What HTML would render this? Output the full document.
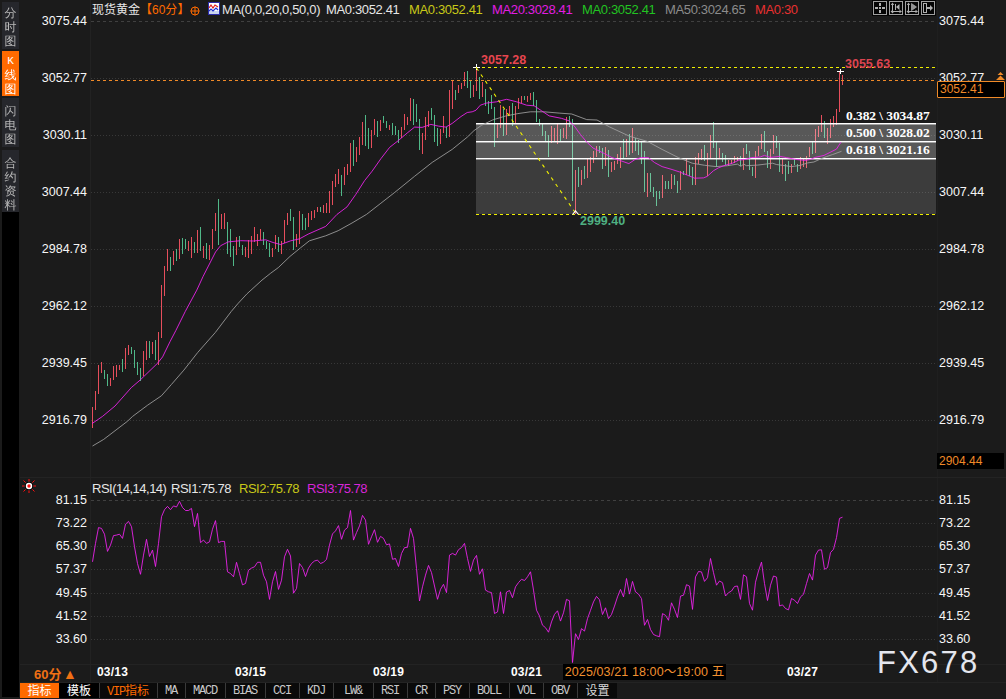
<!DOCTYPE html>
<html lang="zh-CN"><head><meta charset="utf-8"><title>现货黄金 60分</title>
<style>
html,body{margin:0;padding:0;background:#1b1b1b;}
body{width:1006px;height:699px;overflow:hidden;position:relative;font-family:"Liberation Sans","Noto Sans CJK SC",sans-serif;}
#root{position:absolute;left:0;top:0;width:1006px;height:699px;background:#1b1b1b;overflow:hidden;}
svg{position:absolute;left:0;top:0;}
.t{position:absolute;white-space:nowrap;line-height:14px;font-size:12px;color:#f4f4f4;}
.ax{color:#f6f6f6;font-size:12.5px;}
</style></head><body><div id="root">
<style>
.sb{position:absolute;left:2px;width:17px;background:#000;}
.tab{position:absolute;left:2px;width:17px;background:#26272c;color:#b9b9b9;font-family:"Liberation Sans","WenQuanYi Zen Hei","Noto Sans CJK SC",sans-serif;font-size:12px;line-height:14px;text-align:center;}
.tab span{display:block;height:14px;}
.tab.on{background:#ff6a00;color:#fff;}
.vl{position:absolute;width:1px;background:#222222;}
.hl{position:absolute;height:1px;background:#232323;}
</style>
<div class="sb" style="top:0;height:697px;background:#1b1b1c"></div>
<div class="sb" style="top:212px;height:485px"></div>
<div class="tab" style="top:2px;height:47px;padding-top:4px;height:43px"><span>分</span><span>时</span><span>图</span></div>
<div class="tab on" style="top:51px;padding-top:3px;height:42px"><span style="font-family:'Liberation Mono',monospace;font-size:11px">K</span><span>线</span><span>图</span></div>
<div class="tab" style="top:98px;padding-top:6px;height:43px"><span>闪</span><span>电</span><span>图</span></div>
<div class="tab" style="top:150px;padding-top:6px;height:56px"><span>合</span><span>约</span><span>资</span><span>料</span></div>
<div class="vl" style="left:90px;top:0;height:683px"></div>
<div class="vl" style="left:937px;top:0;height:683px;background:#1f1f1f"></div>
<div class="hl" style="left:20px;top:477px;width:986px"></div>
<div class="hl" style="left:20px;top:664px;width:986px"></div>
<div class="hl" style="left:20px;top:682px;width:986px"></div>

<svg width="1006" height="699" viewBox="0 0 1006 699" shape-rendering="crispEdges">
<line x1="91" x2="936" y1="21.5" y2="21.5" stroke="#404040" stroke-width="1" stroke-dasharray="3 3"/>
<line x1="91" x2="936" y1="78.5" y2="78.5" stroke="#383838" stroke-width="1" stroke-dasharray="1 2"/>
<line x1="91" x2="936" y1="135.5" y2="135.5" stroke="#383838" stroke-width="1" stroke-dasharray="1 2"/>
<line x1="91" x2="936" y1="192.5" y2="192.5" stroke="#383838" stroke-width="1" stroke-dasharray="1 2"/>
<line x1="91" x2="936" y1="249.5" y2="249.5" stroke="#383838" stroke-width="1" stroke-dasharray="1 2"/>
<line x1="91" x2="936" y1="306.5" y2="306.5" stroke="#383838" stroke-width="1" stroke-dasharray="1 2"/>
<line x1="91" x2="936" y1="363.5" y2="363.5" stroke="#383838" stroke-width="1" stroke-dasharray="1 2"/>
<line x1="91" x2="936" y1="420.5" y2="420.5" stroke="#383838" stroke-width="1" stroke-dasharray="1 2"/>
<line x1="91" x2="936" y1="500.5" y2="500.5" stroke="#404040" stroke-width="1" stroke-dasharray="3 3"/>
<line x1="91" x2="936" y1="523.5" y2="523.5" stroke="#383838" stroke-width="1" stroke-dasharray="1 2"/>
<line x1="91" x2="936" y1="546.5" y2="546.5" stroke="#383838" stroke-width="1" stroke-dasharray="1 2"/>
<line x1="91" x2="936" y1="569.5" y2="569.5" stroke="#383838" stroke-width="1" stroke-dasharray="1 2"/>
<line x1="91" x2="936" y1="593.5" y2="593.5" stroke="#383838" stroke-width="1" stroke-dasharray="1 2"/>
<line x1="91" x2="936" y1="616.5" y2="616.5" stroke="#383838" stroke-width="1" stroke-dasharray="1 2"/>
<line x1="91" x2="936" y1="639.5" y2="639.5" stroke="#383838" stroke-width="1" stroke-dasharray="1 2"/>
<rect x="92" y="407" width="1" height="21" fill="#e64e5c"/>
<rect x="95" y="391" width="1" height="19" fill="#e64e5c"/>
<rect x="98" y="365" width="1" height="29" fill="#e64e5c"/>
<rect x="101" y="362" width="1" height="11" fill="#e64e5c"/>
<rect x="104" y="370" width="1" height="9" fill="#50b888"/>
<rect x="107" y="374" width="1" height="12" fill="#50b888"/>
<rect x="110" y="378" width="1" height="8" fill="#e64e5c"/>
<rect x="113" y="366" width="1" height="14" fill="#e64e5c"/>
<rect x="116" y="365" width="1" height="12" fill="#e64e5c"/>
<rect x="119" y="365" width="1" height="5" fill="#e64e5c"/>
<rect x="122" y="359" width="1" height="13" fill="#50b888"/>
<rect x="125" y="348" width="1" height="21" fill="#e64e5c"/>
<rect x="128" y="345" width="1" height="10" fill="#e64e5c"/>
<rect x="131" y="347" width="1" height="7" fill="#50b888"/>
<rect x="134" y="350" width="1" height="18" fill="#50b888"/>
<rect x="137" y="362" width="1" height="13" fill="#50b888"/>
<rect x="140" y="368" width="1" height="13" fill="#50b888"/>
<rect x="143" y="351" width="1" height="25" fill="#e64e5c"/>
<rect x="146" y="341" width="1" height="19" fill="#e64e5c"/>
<rect x="149" y="341" width="1" height="17" fill="#50b888"/>
<rect x="152" y="342" width="1" height="12" fill="#e64e5c"/>
<rect x="155" y="340" width="1" height="20" fill="#50b888"/>
<rect x="158" y="332" width="1" height="33" fill="#e64e5c"/>
<rect x="161" y="285" width="1" height="53" fill="#e64e5c"/>
<rect x="164" y="266" width="1" height="30" fill="#e64e5c"/>
<rect x="167" y="249" width="1" height="22" fill="#e64e5c"/>
<rect x="170" y="257" width="1" height="14" fill="#50b888"/>
<rect x="173" y="251" width="1" height="14" fill="#e64e5c"/>
<rect x="176" y="249" width="1" height="12" fill="#50b888"/>
<rect x="179" y="239" width="1" height="20" fill="#e64e5c"/>
<rect x="182" y="238" width="1" height="16" fill="#50b888"/>
<rect x="185" y="239" width="1" height="10" fill="#50b888"/>
<rect x="188" y="241" width="1" height="10" fill="#e64e5c"/>
<rect x="191" y="237" width="1" height="21" fill="#e64e5c"/>
<rect x="194" y="242" width="1" height="11" fill="#50b888"/>
<rect x="197" y="230" width="1" height="23" fill="#e64e5c"/>
<rect x="200" y="227" width="1" height="24" fill="#50b888"/>
<rect x="203" y="246" width="1" height="12" fill="#e64e5c"/>
<rect x="206" y="243" width="1" height="16" fill="#50b888"/>
<rect x="209" y="245" width="1" height="15" fill="#e64e5c"/>
<rect x="212" y="229" width="1" height="20" fill="#e64e5c"/>
<rect x="215" y="213" width="1" height="18" fill="#e64e5c"/>
<rect x="218" y="199" width="1" height="46" fill="#50b888"/>
<rect x="221" y="214" width="1" height="15" fill="#e64e5c"/>
<rect x="224" y="213" width="1" height="16" fill="#e64e5c"/>
<rect x="227" y="222" width="1" height="32" fill="#50b888"/>
<rect x="230" y="229" width="1" height="28" fill="#50b888"/>
<rect x="233" y="246" width="1" height="20" fill="#50b888"/>
<rect x="236" y="237" width="1" height="18" fill="#e64e5c"/>
<rect x="239" y="236" width="1" height="11" fill="#50b888"/>
<rect x="242" y="245" width="1" height="10" fill="#50b888"/>
<rect x="245" y="247" width="1" height="10" fill="#e64e5c"/>
<rect x="248" y="240" width="1" height="18" fill="#e64e5c"/>
<rect x="251" y="236" width="1" height="18" fill="#e64e5c"/>
<rect x="254" y="227" width="1" height="15" fill="#e64e5c"/>
<rect x="257" y="234" width="1" height="12" fill="#e64e5c"/>
<rect x="260" y="229" width="1" height="11" fill="#e64e5c"/>
<rect x="263" y="232" width="1" height="13" fill="#50b888"/>
<rect x="266" y="241" width="1" height="8" fill="#50b888"/>
<rect x="269" y="243" width="1" height="14" fill="#50b888"/>
<rect x="272" y="248" width="1" height="9" fill="#e64e5c"/>
<rect x="275" y="235" width="1" height="14" fill="#e64e5c"/>
<rect x="278" y="237" width="1" height="15" fill="#50b888"/>
<rect x="281" y="241" width="1" height="13" fill="#e64e5c"/>
<rect x="284" y="220" width="1" height="23" fill="#e64e5c"/>
<rect x="287" y="213" width="1" height="12" fill="#e64e5c"/>
<rect x="290" y="209" width="1" height="12" fill="#50b888"/>
<rect x="293" y="217" width="1" height="33" fill="#50b888"/>
<rect x="296" y="234" width="1" height="13" fill="#e64e5c"/>
<rect x="299" y="211" width="1" height="33" fill="#e64e5c"/>
<rect x="302" y="214" width="1" height="16" fill="#50b888"/>
<rect x="305" y="218" width="1" height="12" fill="#50b888"/>
<rect x="308" y="213" width="1" height="14" fill="#e64e5c"/>
<rect x="311" y="211" width="1" height="9" fill="#e64e5c"/>
<rect x="314" y="210" width="1" height="8" fill="#e64e5c"/>
<rect x="317" y="207" width="1" height="5" fill="#e64e5c"/>
<rect x="320" y="207" width="1" height="5" fill="#50b888"/>
<rect x="323" y="205" width="1" height="8" fill="#e64e5c"/>
<rect x="326" y="203" width="1" height="10" fill="#e64e5c"/>
<rect x="329" y="191" width="1" height="22" fill="#e64e5c"/>
<rect x="332" y="181" width="1" height="24" fill="#e64e5c"/>
<rect x="335" y="174" width="1" height="13" fill="#e64e5c"/>
<rect x="338" y="169" width="1" height="15" fill="#e64e5c"/>
<rect x="341" y="175" width="1" height="21" fill="#50b888"/>
<rect x="344" y="167" width="1" height="18" fill="#e64e5c"/>
<rect x="347" y="164" width="1" height="11" fill="#e64e5c"/>
<rect x="350" y="143" width="1" height="29" fill="#e64e5c"/>
<rect x="353" y="140" width="1" height="26" fill="#50b888"/>
<rect x="356" y="147" width="1" height="15" fill="#e64e5c"/>
<rect x="359" y="137" width="1" height="18" fill="#e64e5c"/>
<rect x="362" y="122" width="1" height="23" fill="#e64e5c"/>
<rect x="365" y="115" width="1" height="31" fill="#50b888"/>
<rect x="368" y="128" width="1" height="21" fill="#50b888"/>
<rect x="371" y="130" width="1" height="18" fill="#e64e5c"/>
<rect x="374" y="119" width="1" height="16" fill="#e64e5c"/>
<rect x="377" y="121" width="1" height="16" fill="#50b888"/>
<rect x="380" y="120" width="1" height="11" fill="#e64e5c"/>
<rect x="383" y="116" width="1" height="7" fill="#50b888"/>
<rect x="386" y="121" width="1" height="7" fill="#50b888"/>
<rect x="389" y="125" width="1" height="5" fill="#e64e5c"/>
<rect x="392" y="123" width="1" height="12" fill="#50b888"/>
<rect x="395" y="126" width="1" height="9" fill="#50b888"/>
<rect x="398" y="130" width="1" height="13" fill="#50b888"/>
<rect x="401" y="127" width="1" height="11" fill="#e64e5c"/>
<rect x="404" y="114" width="1" height="16" fill="#e64e5c"/>
<rect x="407" y="117" width="1" height="8" fill="#e64e5c"/>
<rect x="410" y="98" width="1" height="23" fill="#e64e5c"/>
<rect x="413" y="99" width="1" height="26" fill="#50b888"/>
<rect x="416" y="104" width="1" height="18" fill="#50b888"/>
<rect x="419" y="119" width="1" height="31" fill="#50b888"/>
<rect x="422" y="133" width="1" height="21" fill="#e64e5c"/>
<rect x="425" y="117" width="1" height="23" fill="#e64e5c"/>
<rect x="428" y="111" width="1" height="16" fill="#e64e5c"/>
<rect x="431" y="108" width="1" height="12" fill="#50b888"/>
<rect x="434" y="115" width="1" height="27" fill="#50b888"/>
<rect x="437" y="128" width="1" height="18" fill="#50b888"/>
<rect x="440" y="129" width="1" height="15" fill="#e64e5c"/>
<rect x="443" y="116" width="1" height="17" fill="#e64e5c"/>
<rect x="446" y="127" width="1" height="11" fill="#50b888"/>
<rect x="449" y="90" width="1" height="47" fill="#e64e5c"/>
<rect x="452" y="80" width="1" height="29" fill="#e64e5c"/>
<rect x="455" y="90" width="1" height="10" fill="#50b888"/>
<rect x="458" y="85" width="1" height="8" fill="#e64e5c"/>
<rect x="461" y="83" width="1" height="6" fill="#e64e5c"/>
<rect x="464" y="72" width="1" height="14" fill="#e64e5c"/>
<rect x="467" y="71" width="1" height="17" fill="#50b888"/>
<rect x="470" y="81" width="1" height="17" fill="#50b888"/>
<rect x="473" y="85" width="1" height="12" fill="#e64e5c"/>
<rect x="476" y="67" width="1" height="24" fill="#e64e5c"/>
<rect x="479" y="77" width="1" height="22" fill="#50b888"/>
<rect x="482" y="82" width="1" height="15" fill="#e64e5c"/>
<rect x="485" y="89" width="1" height="17" fill="#50b888"/>
<rect x="488" y="101" width="1" height="13" fill="#50b888"/>
<rect x="491" y="95" width="1" height="14" fill="#50b888"/>
<rect x="494" y="107" width="1" height="40" fill="#50b888"/>
<rect x="497" y="124" width="1" height="14" fill="#e64e5c"/>
<rect x="500" y="105" width="1" height="23" fill="#e64e5c"/>
<rect x="503" y="109" width="1" height="27" fill="#50b888"/>
<rect x="506" y="109" width="1" height="26" fill="#e64e5c"/>
<rect x="509" y="106" width="1" height="10" fill="#e64e5c"/>
<rect x="512" y="103" width="1" height="23" fill="#50b888"/>
<rect x="515" y="106" width="1" height="17" fill="#e64e5c"/>
<rect x="518" y="98" width="1" height="11" fill="#e64e5c"/>
<rect x="521" y="96" width="1" height="7" fill="#e64e5c"/>
<rect x="524" y="96" width="1" height="4" fill="#50b888"/>
<rect x="527" y="96" width="1" height="6" fill="#e64e5c"/>
<rect x="530" y="93" width="1" height="7" fill="#e64e5c"/>
<rect x="533" y="92" width="1" height="14" fill="#50b888"/>
<rect x="536" y="100" width="1" height="22" fill="#50b888"/>
<rect x="539" y="119" width="1" height="7" fill="#50b888"/>
<rect x="542" y="124" width="1" height="12" fill="#50b888"/>
<rect x="545" y="131" width="1" height="10" fill="#50b888"/>
<rect x="548" y="135" width="1" height="22" fill="#50b888"/>
<rect x="551" y="126" width="1" height="17" fill="#e64e5c"/>
<rect x="554" y="128" width="1" height="13" fill="#e64e5c"/>
<rect x="557" y="124" width="1" height="20" fill="#e64e5c"/>
<rect x="560" y="129" width="1" height="12" fill="#50b888"/>
<rect x="563" y="128" width="1" height="10" fill="#e64e5c"/>
<rect x="566" y="117" width="1" height="22" fill="#e64e5c"/>
<rect x="569" y="116" width="1" height="11" fill="#50b888"/>
<rect x="572" y="119" width="1" height="82" fill="#50b888"/>
<rect x="575" y="170" width="1" height="44" fill="#e64e5c"/>
<rect x="578" y="167" width="1" height="20" fill="#50b888"/>
<rect x="581" y="170" width="1" height="15" fill="#e64e5c"/>
<rect x="584" y="166" width="1" height="13" fill="#50b888"/>
<rect x="587" y="159" width="1" height="19" fill="#e64e5c"/>
<rect x="590" y="157" width="1" height="15" fill="#e64e5c"/>
<rect x="593" y="151" width="1" height="12" fill="#e64e5c"/>
<rect x="596" y="146" width="1" height="11" fill="#e64e5c"/>
<rect x="599" y="146" width="1" height="7" fill="#50b888"/>
<rect x="602" y="148" width="1" height="21" fill="#50b888"/>
<rect x="605" y="147" width="1" height="19" fill="#e64e5c"/>
<rect x="608" y="150" width="1" height="27" fill="#50b888"/>
<rect x="611" y="162" width="1" height="10" fill="#e64e5c"/>
<rect x="614" y="161" width="1" height="9" fill="#e64e5c"/>
<rect x="617" y="154" width="1" height="10" fill="#e64e5c"/>
<rect x="620" y="147" width="1" height="21" fill="#e64e5c"/>
<rect x="623" y="139" width="1" height="19" fill="#50b888"/>
<rect x="626" y="139" width="1" height="18" fill="#e64e5c"/>
<rect x="629" y="134" width="1" height="21" fill="#50b888"/>
<rect x="632" y="128" width="1" height="25" fill="#e64e5c"/>
<rect x="635" y="138" width="1" height="13" fill="#50b888"/>
<rect x="638" y="140" width="1" height="15" fill="#50b888"/>
<rect x="641" y="142" width="1" height="22" fill="#50b888"/>
<rect x="644" y="151" width="1" height="41" fill="#50b888"/>
<rect x="647" y="173" width="1" height="24" fill="#e64e5c"/>
<rect x="650" y="173" width="1" height="19" fill="#50b888"/>
<rect x="653" y="187" width="1" height="10" fill="#50b888"/>
<rect x="656" y="191" width="1" height="15" fill="#50b888"/>
<rect x="659" y="191" width="1" height="8" fill="#50b888"/>
<rect x="662" y="175" width="1" height="23" fill="#e64e5c"/>
<rect x="665" y="181" width="1" height="8" fill="#50b888"/>
<rect x="668" y="181" width="1" height="8" fill="#50b888"/>
<rect x="671" y="174" width="1" height="15" fill="#e64e5c"/>
<rect x="674" y="175" width="1" height="10" fill="#50b888"/>
<rect x="677" y="181" width="1" height="12" fill="#50b888"/>
<rect x="680" y="171" width="1" height="19" fill="#e64e5c"/>
<rect x="683" y="171" width="1" height="4" fill="#50b888"/>
<rect x="686" y="159" width="1" height="16" fill="#e64e5c"/>
<rect x="689" y="165" width="1" height="11" fill="#50b888"/>
<rect x="692" y="167" width="1" height="18" fill="#50b888"/>
<rect x="695" y="157" width="1" height="28" fill="#e64e5c"/>
<rect x="698" y="153" width="1" height="11" fill="#e64e5c"/>
<rect x="701" y="149" width="1" height="11" fill="#e64e5c"/>
<rect x="704" y="145" width="1" height="16" fill="#50b888"/>
<rect x="707" y="153" width="1" height="23" fill="#e64e5c"/>
<rect x="710" y="135" width="1" height="23" fill="#e64e5c"/>
<rect x="713" y="122" width="1" height="26" fill="#50b888"/>
<rect x="716" y="142" width="1" height="25" fill="#50b888"/>
<rect x="719" y="148" width="1" height="10" fill="#e64e5c"/>
<rect x="722" y="153" width="1" height="9" fill="#50b888"/>
<rect x="725" y="155" width="1" height="10" fill="#50b888"/>
<rect x="728" y="160" width="1" height="6" fill="#e64e5c"/>
<rect x="731" y="160" width="1" height="4" fill="#e64e5c"/>
<rect x="734" y="156" width="1" height="7" fill="#e64e5c"/>
<rect x="737" y="157" width="1" height="4" fill="#e64e5c"/>
<rect x="740" y="156" width="1" height="10" fill="#50b888"/>
<rect x="743" y="148" width="1" height="22" fill="#e64e5c"/>
<rect x="746" y="144" width="1" height="10" fill="#50b888"/>
<rect x="749" y="151" width="1" height="19" fill="#50b888"/>
<rect x="752" y="167" width="1" height="9" fill="#50b888"/>
<rect x="755" y="151" width="1" height="27" fill="#e64e5c"/>
<rect x="758" y="146" width="1" height="10" fill="#e64e5c"/>
<rect x="761" y="134" width="1" height="15" fill="#e64e5c"/>
<rect x="764" y="131" width="1" height="21" fill="#50b888"/>
<rect x="767" y="151" width="1" height="17" fill="#50b888"/>
<rect x="770" y="149" width="1" height="20" fill="#e64e5c"/>
<rect x="773" y="135" width="1" height="19" fill="#e64e5c"/>
<rect x="776" y="136" width="1" height="12" fill="#50b888"/>
<rect x="779" y="143" width="1" height="29" fill="#50b888"/>
<rect x="782" y="159" width="1" height="15" fill="#e64e5c"/>
<rect x="785" y="164" width="1" height="17" fill="#50b888"/>
<rect x="788" y="161" width="1" height="13" fill="#50b888"/>
<rect x="791" y="164" width="1" height="9" fill="#e64e5c"/>
<rect x="794" y="159" width="1" height="6" fill="#50b888"/>
<rect x="797" y="164" width="1" height="8" fill="#50b888"/>
<rect x="800" y="157" width="1" height="12" fill="#e64e5c"/>
<rect x="803" y="159" width="1" height="8" fill="#e64e5c"/>
<rect x="806" y="156" width="1" height="12" fill="#e64e5c"/>
<rect x="809" y="147" width="1" height="10" fill="#e64e5c"/>
<rect x="812" y="142" width="1" height="12" fill="#50b888"/>
<rect x="815" y="129" width="1" height="24" fill="#e64e5c"/>
<rect x="818" y="126" width="1" height="11" fill="#e64e5c"/>
<rect x="821" y="115" width="1" height="17" fill="#e64e5c"/>
<rect x="824" y="121" width="1" height="17" fill="#50b888"/>
<rect x="827" y="128" width="1" height="16" fill="#e64e5c"/>
<rect x="830" y="119" width="1" height="19" fill="#e64e5c"/>
<rect x="833" y="116" width="1" height="11" fill="#e64e5c"/>
<rect x="836" y="109" width="1" height="16" fill="#e64e5c"/>
<rect x="839" y="71" width="1" height="41" fill="#e64e5c"/>
<rect x="842" y="75" width="1" height="10" fill="#e64e5c"/>
<rect x="476" y="123" width="460" height="36" fill="#ffffff" fill-opacity="0.27"/>
<rect x="476" y="159" width="460" height="55" fill="#ffffff" fill-opacity="0.15"/>
<polyline points="92.5,561.8 95.5,543.4 98.5,527.6 101.5,528.4 104.5,534.2 107.5,551.4 110.5,545.1 113.5,535.6 116.5,535.1 119.5,534.2 122.5,538.4 125.5,524.2 128.5,521.4 131.5,526.7 134.5,546.8 137.5,563.5 140.5,574.3 143.5,555.1 146.5,539.3 149.5,556.5 152.5,550.1 155.5,566.5 158.5,543.4 161.5,516.7 164.5,509.7 167.5,506.4 170.5,509.7 173.5,505.9 176.5,507 179.5,501.3 182.5,507.5 185.5,510.5 188.5,510.5 191.5,508.4 194.5,526.7 197.5,513.4 200.5,542.6 203.5,540.1 206.5,543.4 209.5,541.8 212.5,529.2 215.5,520.6 218.5,542.6 221.5,541.4 224.5,541.4 227.5,571.8 230.5,573.5 233.5,576.8 236.5,562.3 239.5,573.5 242.5,584.8 245.5,583.5 248.5,570.2 251.5,568.1 254.5,566.8 257.5,562.3 260.5,562.3 263.5,575.2 266.5,581.8 269.5,599.4 272.5,581.8 275.5,571.5 278.5,589.4 281.5,580.2 284.5,556.8 287.5,549.3 290.5,556 293.5,593.2 296.5,588.5 299.5,563.5 302.5,567.6 305.5,576.5 308.5,568.1 311.5,563.5 314.5,561 317.5,560.1 320.5,563.5 323.5,562.3 326.5,559.3 329.5,545.1 332.5,533.9 335.5,530.9 338.5,525.6 341.5,539.3 344.5,530.1 347.5,527.6 350.5,510.5 353.5,540.1 356.5,532.6 359.5,525.9 362.5,515.4 365.5,520.1 368.5,544.3 371.5,536.8 374.5,529.7 377.5,542.3 380.5,536.4 383.5,538.4 386.5,544.8 389.5,543.9 392.5,559.3 395.5,558.5 398.5,566.5 401.5,553.5 404.5,547.6 407.5,547.3 410.5,528.4 413.5,538.4 416.5,568.5 419.5,601 422.5,586.8 425.5,575.1 428.5,565.4 431.5,572.6 434.5,586 437.5,599.3 440.5,589.3 443.5,584.3 446.5,592.6 449.5,555.1 452.5,553.4 455.5,555.1 458.5,549.7 461.5,547.6 464.5,543.4 467.5,558.4 470.5,571.4 473.5,560.1 476.5,555.4 479.5,574.3 482.5,568.8 485.5,590.1 488.5,591.8 491.5,592.6 494.5,613.5 497.5,611.9 500.5,591.8 503.5,613.5 506.5,592.1 509.5,590.5 512.5,597.7 515.5,586.8 518.5,582.6 521.5,579.3 524.5,580.5 527.5,576.8 530.5,571.8 533.5,590.1 536.5,610.2 539.5,616 542.5,625.2 545.5,627.7 548.5,632.2 551.5,621.9 554.5,614.4 557.5,610.8 560.5,621.1 563.5,612.8 566.5,599.4 569.5,600.8 572.5,662.5 575.5,633.7 578.5,639.5 581.5,628.6 584.5,631.1 587.5,618.6 590.5,610.3 593.5,601.9 596.5,596.4 599.5,599.8 602.5,614.5 605.5,607.8 608.5,618.6 611.5,614.5 614.5,606.1 617.5,596.9 620.5,589.4 623.5,596.9 626.5,578.5 629.5,594.1 632.5,581.4 635.5,591.9 638.5,594.1 641.5,598.6 644.5,625.3 647.5,619.5 650.5,629.5 653.5,634.5 656.5,635.8 659.5,636.7 662.5,613.6 665.5,615.3 668.5,620.3 671.5,602.8 674.5,609.4 677.5,617.5 680.5,596.1 683.5,595.2 686.5,584.7 689.5,586.1 692.5,609.4 695.5,576.9 698.5,571.5 701.5,571.9 704.5,581.4 707.5,577.7 710.5,558.5 713.5,572.7 716.5,585.2 719.5,581 722.5,582.7 725.5,596 728.5,592.7 731.5,591 734.5,586.5 737.5,586 740.5,599.4 743.5,574.8 746.5,576.8 749.5,603.5 752.5,610.2 755.5,582.2 758.5,571 761.5,562.1 764.5,583.5 767.5,600.5 770.5,585.2 773.5,576 776.5,577.1 779.5,606 782.5,604.9 785.5,608.5 788.5,609.9 791.5,598.5 794.5,600.2 797.5,603.5 800.5,596.9 803.5,594.3 806.5,583.5 809.5,573.5 812.5,580.1 815.5,555.1 818.5,550.1 821.5,549.8 824.5,569.3 827.5,567.6 830.5,552.6 833.5,549.3 836.5,537.6 839.5,518.4 842.5,517.2" fill="none" stroke="#f424f4" stroke-width="0.85" stroke-linejoin="round" shape-rendering="geometricPrecision"/>
<rect x="476" y="123" width="460" height="1" fill="#ffffff"/>
<rect x="476" y="124" width="460" height="1" fill="#ffffff" fill-opacity="0.45"/>
<rect x="476" y="141" width="460" height="1" fill="#ffffff"/>
<rect x="476" y="142" width="460" height="1" fill="#ffffff" fill-opacity="0.45"/>
<rect x="476" y="158" width="460" height="1" fill="#ffffff"/>
<rect x="476" y="159" width="460" height="1" fill="#ffffff" fill-opacity="0.45"/>
<polyline points="92.5,446 103.7,439.4 127.4,421.3 132.6,416.4 147.6,405.2 161.4,395.8 171.4,384.5 183.9,370.1 197.7,352.5 215.3,332.5 231.3,311.4 238.2,303.3 246.9,293.9 262,280.1 270.7,273.2 278.3,267.6 290,256.4 300.7,247.7 309.4,240.8 325.7,235.8 338.2,230.7 352,223 366.5,214.4 380.9,203.2 394.6,192.5 414.7,176.2 432.2,162.4 452.3,149.3 467.2,137.2 474,130.6 481.5,125.3 492.8,119.9 505.3,116.1 517.8,113.6 530.4,111.8 544.1,111.8 559.2,113.1 571.7,114 586.7,119.6 597,120 609.5,126.9 629.6,136.3 647.1,141.3 662.1,149.4 678.4,157.6 692.2,163.2 704.7,165.3 716,166.6 727.5,165.7 737.5,164.1 740.7,166.4 743.8,164.1 746.3,165.7 757.6,165.1 772.6,163.2 776.4,164.5 785.1,165.7 791.4,166.6 800.2,165.4 807.7,162.9 813.9,162 820.2,159.1 826.5,156.6 832.7,154.5 841.5,151.3" fill="none" stroke="#a0a0a0" stroke-width="0.85" stroke-linejoin="round" shape-rendering="geometricPrecision"/>
<polyline points="92,423.6 102.5,416.4 115,406 131.3,387.6 140.1,380.1 157.6,363.2 162.6,356.9 170.2,341.3 175.8,330.6 185.3,311.4 196.8,290.1 203.1,276.4 215.6,251.9 220.6,245.7 228.2,241.9 240.7,240.7 253.2,241 265.7,239.8 273,242.5 280.6,244.5 290.7,240.8 299.4,238.9 308.2,234.1 325.7,226.4 337,214.4 347,206.9 355.8,194.4 364.6,180.6 372.1,171.2 380.9,158.7 389.6,147.4 398.4,140.5 407.2,133 414.6,127.1 422.1,127.4 430.9,124.4 438.4,126.1 445.9,127.1 452.2,123.4 461,116.5 467.2,112.5 472.2,111.8 476,110.2 480.3,105.2 486.5,103.1 496.5,101.8 506.6,99.3 516.6,101.8 526.6,105.2 534.1,105.8 541.6,110.8 549.2,115.9 561.7,118.4 569.2,120.9 574.2,125.9 580.5,134.6 586.7,142 593,148 599.2,151 604.5,153.6 612,157.6 619.5,160.3 628.9,163.6 634.6,159.8 640.8,157.6 648.4,157.6 654.6,162.6 662.1,166.6 672.1,169.5 679.7,172 687.2,175.1 694.7,178.2 703.5,177.9 707.2,176.4 713.5,170.7 718.5,167.8 723.8,165.7 732.5,163.2 738.8,160.1 745,159.5 751.3,157.6 760.1,157 764.5,155.4 770.1,157.4 780.1,156.4 786.4,157.6 796.4,159.5 805.2,160.4 810.2,159.5 815.2,157.4 824,155.4 830.2,152.3 836.5,149.1 839,145.1 840.9,142.3" fill="none" stroke="#f424f4" stroke-width="0.85" stroke-linejoin="round" shape-rendering="geometricPrecision"/>
<line x1="476" x2="936" y1="67.5" y2="67.5" stroke="#f0f000" stroke-width="1" stroke-dasharray="3 3"/>
<line x1="476" x2="936" y1="214.5" y2="214.5" stroke="#f0f000" stroke-width="1" stroke-dasharray="3 3"/>
<line x1="476.5" y1="68" x2="575.5" y2="213" stroke="#f0f000" stroke-width="1.1" stroke-dasharray="3.4 4.4" shape-rendering="geometricPrecision"/>
<line x1="91" x2="936" y1="80.5" y2="80.5" stroke="#f08a28" stroke-width="1" stroke-dasharray="3 3"/>
</svg>
<div class="t ax" style="left:29px;width:58px;text-align:right;top:14px">3075.44</div>
<div class="t ax" style="left:939px;top:14px">3075.44</div>
<div class="t ax" style="left:29px;width:58px;text-align:right;top:71px">3052.77</div>
<div class="t ax" style="left:939px;top:71px">3052.77</div>
<div class="t ax" style="left:29px;width:58px;text-align:right;top:128px">3030.11</div>
<div class="t ax" style="left:939px;top:128px">3030.11</div>
<div class="t ax" style="left:29px;width:58px;text-align:right;top:185px">3007.44</div>
<div class="t ax" style="left:939px;top:185px">3007.44</div>
<div class="t ax" style="left:29px;width:58px;text-align:right;top:242px">2984.78</div>
<div class="t ax" style="left:939px;top:242px">2984.78</div>
<div class="t ax" style="left:29px;width:58px;text-align:right;top:299px">2962.12</div>
<div class="t ax" style="left:939px;top:299px">2962.12</div>
<div class="t ax" style="left:29px;width:58px;text-align:right;top:356px">2939.45</div>
<div class="t ax" style="left:939px;top:356px">2939.45</div>
<div class="t ax" style="left:29px;width:58px;text-align:right;top:413px">2916.79</div>
<div class="t ax" style="left:939px;top:413px">2916.79</div>
<div class="t ax" style="left:29px;width:58px;text-align:right;top:493px">81.15</div>
<div class="t ax" style="left:939px;top:493px">81.15</div>
<div class="t ax" style="left:29px;width:58px;text-align:right;top:516px">73.22</div>
<div class="t ax" style="left:939px;top:516px">73.22</div>
<div class="t ax" style="left:29px;width:58px;text-align:right;top:539px">65.30</div>
<div class="t ax" style="left:939px;top:539px">65.30</div>
<div class="t ax" style="left:29px;width:58px;text-align:right;top:562px">57.37</div>
<div class="t ax" style="left:939px;top:562px">57.37</div>
<div class="t ax" style="left:29px;width:58px;text-align:right;top:586px">49.45</div>
<div class="t ax" style="left:939px;top:586px">49.45</div>
<div class="t ax" style="left:29px;width:58px;text-align:right;top:609px">41.52</div>
<div class="t ax" style="left:939px;top:609px">41.52</div>
<div class="t ax" style="left:29px;width:58px;text-align:right;top:632px">33.60</div>
<div class="t ax" style="left:939px;top:632px">33.60</div>
<style>
.hd{top:2px;font-size:13px;line-height:16px;letter-spacing:-0.35px;}
.bt{position:absolute;top:683px;height:15px;line-height:16px;font-size:12px;font-family:"Liberation Mono","Noto Sans Mono CJK SC",monospace;color:#c8c8c8;background:#0a0a0a;text-align:center;border-right:1px solid #3a3a3a;box-sizing:border-box;letter-spacing:-1.2px;text-indent:-1px;}
.dt{font-weight:bold;font-size:12px;color:#fff;top:665px;letter-spacing:0.2px;}
.fib{font-family:"Liberation Serif",serif;font-weight:bold;font-size:13.5px;color:#fff;letter-spacing:-0.08px;}
</style>
<!-- header -->
<div class="t hd" style="left:92px;color:#e8e8e8;font-family:'Liberation Sans','Noto Sans CJK SC',sans-serif;font-size:12px;letter-spacing:0">现货黄金</div>
<div class="t hd" style="left:145px;color:#ff6a00;font-size:12px;letter-spacing:0px"><span style="margin-left:-5px">【</span>60分<span style="margin-right:-5px">】</span></div>
<svg width="12" height="12" style="left:189px;top:5px" viewBox="0 0 12 12"><circle cx="6" cy="6" r="4" fill="none" stroke="#ff6a00" stroke-width="1"/><path d="M1.5 6H10.5M6 1.5V10.5" stroke="#ff6a00" stroke-width="1"/></svg>
<svg width="12" height="13" style="left:208px;top:2px" viewBox="0 0 12 13" shape-rendering="crispEdges"><rect x="0.5" y="0.5" width="11" height="12" fill="#fff" stroke="#2b2ba8"/><rect x="1" y="9" width="10" height="3" fill="#c8d4f0"/><polyline points="1,6 3,3 5,6 7,3 10,5" fill="none" stroke="#e02020" stroke-width="1.2" shape-rendering="auto"/><polyline points="1,9 3,7 5,9 8,6 10,8" fill="none" stroke="#2030d0" stroke-width="1.2" shape-rendering="auto"/></svg>
<div class="t hd" style="left:222px;color:#e6e6e6">MA(0,0,20,0,50,0)</div>
<div class="t hd" style="left:326px;color:#e6e6e6">MA0:3052.41</div>
<div class="t hd" style="left:409px;color:#c8c818">MA0:3052.41</div>
<div class="t hd" style="left:492px;color:#e21de2">MA20:3028.41</div>
<div class="t hd" style="left:582px;color:#22c322">MA0:3052.41</div>
<div class="t hd" style="left:665px;color:#8c8c8c">MA50:3024.65</div>
<div class="t hd" style="left:755px;color:#e83030">MA0:30</div>
<!-- toolbar icons -->
<svg width="66" height="16" style="left:871px;top:0" viewBox="0 0 66 16">
<rect x="1" y="0" width="64" height="16" fill="#050505"/>
<g fill="none" stroke="#a0a0a0" stroke-width="1" shape-rendering="crispEdges">
<rect x="2.5" y="1.5" width="13" height="13"/><rect x="18.5" y="1.5" width="13" height="13"/><rect x="34.5" y="1.5" width="13" height="13"/><rect x="50.5" y="1.5" width="13" height="13"/></g>
<g fill="#b0b0b0" shape-rendering="crispEdges">
<rect x="8" y="3" width="2" height="3"/><rect x="8" y="10" width="2" height="3"/><rect x="4" y="7" width="3" height="2"/><rect x="11" y="7" width="3" height="2"/><rect x="8" y="7" width="2" height="2"/>
<rect x="21" y="4" width="1" height="9"/><rect x="20" y="11" width="10" height="1"/><rect x="24" y="4" width="1" height="6"/>
<rect x="37" y="4" width="1" height="9"/><rect x="36" y="11" width="10" height="1"/>
<rect x="55" y="7" width="5" height="2"/>
</g>
<g fill="#b0b0b0">
<path d="M21.5 2.5L19.8 5H23.2ZM21.5 13.5L19.8 11.5H23.2ZM31 11.5L28.5 9.8V13.2ZM19.5 11.5L21.5 10V13Z"/>
<path d="M28.5 4L25 7L28.5 10Z"/>
<path d="M37.5 2.5L35.8 5H39.2ZM37.5 13.5L35.8 11.5H39.2ZM47 11.5L44.5 9.8V13.2ZM35.5 11.5L37.5 10V13Z"/>
<path d="M40.5 3.5L45.5 7L40.5 10.5Z" fill="#909090" stroke="#c0c0c0" stroke-width="0.6"/>
<path d="M59 5L62 8L59 11Z"/>
</g>
<rect x="52.5" y="3.5" width="3" height="9" fill="#050505" stroke="#b0b0b0" stroke-width="1" shape-rendering="crispEdges"/>
</svg>
<!-- price annotations -->
<div class="t" style="left:481px;top:53px;color:#e8464f;font-weight:bold;font-size:12.5px">3057.28</div>
<div class="t" style="left:845px;top:57px;color:#dc4450;font-weight:bold;font-size:12.5px">3055.63</div>
<div class="t" style="left:580px;top:214px;color:#4fb082;font-weight:bold;font-size:12.5px">2999.40</div>
<div class="t fib" style="left:846px;top:109px">0.382 \ 3034.87</div>
<div class="t fib" style="left:846px;top:126px">0.500 \ 3028.02</div>
<div class="t fib" style="left:846px;top:143px">0.618 \ 3021.16</div>
<!-- current price tag -->
<svg width="9" height="8" style="left:996px;top:72px" viewBox="0 0 9 8"><path d="M4.5 0L7.5 3H1.5Z M4.5 3.6L9 8H0Z" fill="#f08a28"/></svg>
<div class="t" style="left:937px;top:81px;width:66px;height:15px;border:1px solid #f08a28;background:#000;color:#f08a28;font-size:12px;line-height:15px;border-radius:1px"><span style="margin-left:2px">3052.41</span></div>
<div class="t" style="left:937px;top:453px;width:67px;height:16px;background:#000;color:#f08a28;font-size:12px;line-height:16px"><span style="margin-left:2px">2904.44</span></div>
<svg width="9" height="7" style="left:472px;top:64px" viewBox="0 0 9 7" shape-rendering="crispEdges"><path d="M1 3.5H8M4.5 0V6" stroke="#fff" stroke-width="1"/><rect x="4" y="3" width="1" height="2" fill="#f0f000"/></svg>
<!-- white cross marker on last high -->
<svg width="7" height="5" style="left:837px;top:69px" viewBox="0 0 7 5" shape-rendering="crispEdges"><path d="M0 2.5H7M3.5 0V5" stroke="#fff" stroke-width="1"/></svg>
<svg width="7" height="5" style="left:572px;top:210px" viewBox="0 0 7 5"><path d="M0.5 4.5L3.5 0.8L6.5 4.5" fill="none" stroke="#fff" stroke-width="1.1"/></svg>
<!-- RSI header -->
<svg width="14" height="14" style="left:22px;top:479px" viewBox="0 0 14 14"><g stroke="#ff1010" stroke-width="1"><path d="M7 0V2.6M7 11.4V14M0 7H2.6M11.4 7H14M1.5 1.5L3.6 3.6M10.4 10.4L12.5 12.5M1.5 12.5L3.6 10.4M10.4 3.6L12.5 1.5"/></g><circle cx="7" cy="7" r="4" fill="#000"/><circle cx="7" cy="7" r="3.2" fill="#fff"/><circle cx="7" cy="7" r="1.7" fill="#ff1010"/></svg>
<div class="t hd" style="letter-spacing:-0.5px;left:92px;top:481px;color:#e6e6e6">RSI(14,14,14)</div>
<div class="t hd" style="letter-spacing:-0.5px;left:171px;top:481px;color:#e6e6e6">RSI1:75.78</div>
<div class="t hd" style="letter-spacing:-0.5px;left:239px;top:481px;color:#c8c818">RSI2:75.78</div>
<div class="t hd" style="letter-spacing:-0.5px;left:307px;top:481px;color:#d926d9">RSI3:75.78</div>
<!-- date axis -->
<div class="t" style="left:34px;top:667px;color:#f07014;font-weight:bold;font-size:13px;line-height:16px">60分 <span style="font-size:14px;line-height:14px;margin-left:-2px">▲</span></div>
<div class="t dt" style="left:97px">03/13</div>
<div class="t dt" style="left:235px">03/15</div>
<div class="t dt" style="left:373px">03/19</div>
<div class="t dt" style="left:511px">03/21</div>
<div class="t dt" style="left:787px">03/27</div>
<div class="t" style="left:563px;top:664px;width:163px;height:16px;background:#000;color:#f09030;font-size:12.5px;letter-spacing:0.1px;line-height:16px;text-align:center">2025/03/21 18:00～19:00 五</div>
<!-- watermark -->
<div class="t" style="left:877px;top:645px;font-size:31px;line-height:36px;color:#e4e6ee;letter-spacing:2.2px">FX678</div>
<!-- bottom tabs -->
<div class="bt" style="left:20px;width:39px;background:#ff6a00;color:#fff;font-size:12px;font-family:'Liberation Sans','Noto Sans CJK SC',sans-serif;border-right:0;letter-spacing:0;text-indent:0">指标</div>
<div class="bt" style="left:59px;width:41px;background:#000;color:#fff;font-size:12px;font-family:'Liberation Sans','Noto Sans CJK SC',sans-serif;letter-spacing:0;text-indent:0">模板</div>
<div class="bt" style="left:100px;width:58px;color:#ff6a00"><span>VIP</span><span style="font-size:12px;font-family:'Liberation Sans','Noto Sans CJK SC',sans-serif;letter-spacing:0">指标</span></div>
<div class="bt" style="left:158px;width:28px">MA</div>
<div class="bt" style="left:186px;width:40px">MACD</div>
<div class="bt" style="left:226px;width:40px">BIAS</div>
<div class="bt" style="left:266px;width:34px">CCI</div>
<div class="bt" style="left:300px;width:34px">KDJ</div>
<div class="bt" style="left:334px;width:40px">LW&amp;</div>
<div class="bt" style="left:374px;width:34px">RSI</div>
<div class="bt" style="left:408px;width:28px">CR</div>
<div class="bt" style="left:436px;width:34px">PSY</div>
<div class="bt" style="left:470px;width:40px">BOLL</div>
<div class="bt" style="left:510px;width:34px">VOL</div>
<div class="bt" style="left:544px;width:34px">OBV</div>
<div class="bt" style="left:578px;width:39px;border-right:0;color:#d8d8d8;font-size:12px;font-family:'Liberation Sans','Noto Sans CJK SC',sans-serif;letter-spacing:0;text-indent:0">设置</div>

</div></body></html>
